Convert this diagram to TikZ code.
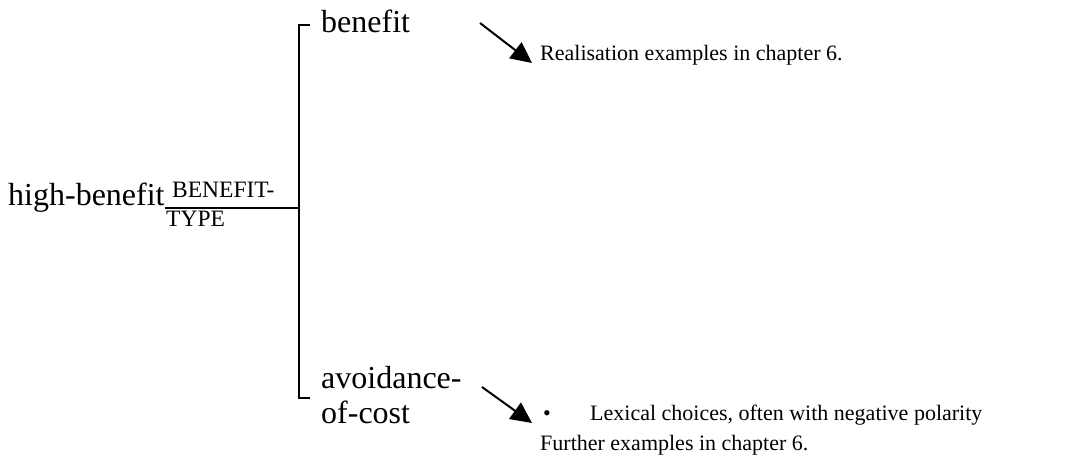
\documentclass[tikz,border=0pt]{standalone}
\usepackage{fontspec}
\setmainfont{Liberation Serif}
\usetikzlibrary{arrows.meta}
\begin{document}
\begin{tikzpicture}[x=1pt,y=-1pt,
  lbl/.style={inner sep=0pt, anchor=base west},
  big/.style={lbl, font=\fontsize{32}{35}\selectfont, align=left},
  feat/.style={lbl, font=\fontsize{23.5}{20}\selectfont},
  note/.style={lbl, font=\fontsize{22}{30}\selectfont, align=left},
  brk/.style={line width=2.4pt},
  arr/.style={line width=2pt, -{Triangle[length=21pt,width=20pt]}}]
\useasboundingbox (0,0) rectangle (1074,457);

% entry condition and system name
\node[big]  (hb) at (8,206) {high-benefit};
\node[feat] (bt) at (172,198) {BENEFIT-};
\node[feat] (ty) at (166,227) {TYPE};

% terms of the system (base anchor sits on the last line)
\node[big] (ben) at (321,33) {benefit};
\node[big] (av)  at (321,423) {avoidance-\\of-cost};

% realisation notes
\node[note] (r1) at (540,61) {Realisation examples in chapter 6.};
\node[note] (r2) at (540,450) {\makebox[50pt][l]{\hspace{3pt}•}Lexical choices, often with negative polarity\\Further examples in chapter 6.};

% system bracket
\coordinate (j)   at (299,208);
\coordinate (top) at (299,25);
\coordinate (bot) at (299,398);
\draw[brk] (hb.base east |- j) -- (j);
\draw[brk] ([xshift=11pt]top) -- (top) -- (bot) -- ([xshift=11pt]bot);

% realisation arrows
\coordinate (s1) at (480,23);
\coordinate (e1) at (532,63);
\coordinate (s2) at (482,387);
\coordinate (e2) at (532,423);
\draw[arr] (s1) -- (e1);
\draw[arr] (s2) -- (e2);
\end{tikzpicture}
\end{document}
